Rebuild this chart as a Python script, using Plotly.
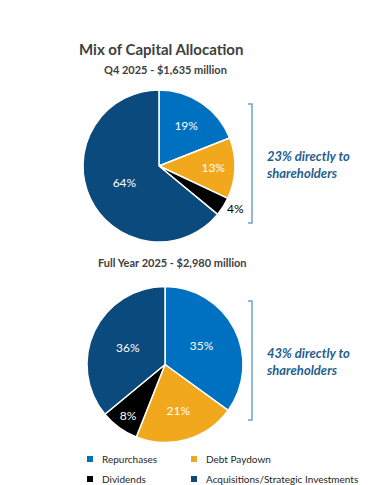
import plotly.graph_objects as go

W, H = 380, 485

categories = ["Repurchases", "Debt Paydown", "Dividends", "Acquisitions/Strategic Investments"]
q4_values = [19, 13, 4, 64]
fy_values = [35, 21, 8, 36]
colors = ["#0070C0", "#F2A81D", "#000000", "#0B4A7C"]
title_text = "Mix of Capital Allocation"
q4_title = "Q4 2025 - $1,635 million"
fy_title = "Full Year 2025 - $2,980 million"
q4_note = "23% directly to<br>shareholders"
fy_note = "43% directly to<br>shareholders"

FONT = "Lato"

def px(x):
    return x / W

def py(y):
    return 1 - y / H

fig = go.Figure()

def add_pie(values, x0, x1, y0, y1, outside_idx=None):
    pos = ["inside"] * len(values)
    tcol = ["white"] * len(values)
    if outside_idx is not None:
        pos[outside_idx] = "outside"
        tcol[outside_idx] = "black"
    fig.add_trace(go.Pie(
        labels=categories,
        values=values,
        text=[f"{v}%" for v in values],
        textinfo="text",
        textposition=pos,
        insidetextorientation="horizontal",
        textfont=dict(family=FONT, size=12, color=tcol),
        marker=dict(colors=colors, line=dict(color="white", width=1.5)),
        sort=False,
        direction="clockwise",
        rotation=0,
        showlegend=False,
        domain=dict(x=[px(x0), px(x1)], y=[py(y1), py(y0)]),
        hoverinfo="label+value",
    ))

add_pie(q4_values, 83, 235, 90, 242, outside_idx=2)
add_pie(fy_values, 87, 243, 286, 443)

annotations = []
shapes = []

annotations.append(dict(text="<b>" + title_text + "</b>", x=px(161), y=py(49), xref="paper", yref="paper",
                        showarrow=False, font=dict(family=FONT, size=15, color="#404040"), xanchor="center", yanchor="middle"))
annotations.append(dict(text="<b>" + q4_title + "</b>", x=px(165), y=py(70), xref="paper", yref="paper",
                        showarrow=False, font=dict(family=FONT, size=11, color="#404040"), xanchor="center", yanchor="middle"))
annotations.append(dict(text="<b>" + fy_title + "</b>", x=px(172), y=py(262), xref="paper", yref="paper",
                        showarrow=False, font=dict(family=FONT, size=11, color="#404040"), xanchor="center", yanchor="middle"))

for note, ytop, ybot in [(q4_note, 104, 223), (fy_note, 301, 420)]:
    shapes.append(dict(type="path", xref="paper", yref="paper",
                       path=f"M {px(248)},{py(ytop)} L {px(252)},{py(ytop)} L {px(252)},{py(ybot)} L {px(248)},{py(ybot)}",
                       line=dict(color="#6FA3D2", width=1.5)))
    annotations.append(dict(text="<b><i>" + note + "</i></b>", x=px(264), y=py((ytop + ybot) / 2 + 1), xref="paper", yref="paper",
                            showarrow=False, align="left", xanchor="left", yanchor="middle",
                            font=dict(family=FONT, size=13, color="#1F5E8E")))

# legend (manual, 2 columns)
leg_pos = [(87, 459), (191, 459), (87, 479), (191, 479)]
for (lx, ly), cat, col in zip(leg_pos, categories, colors):
    shapes.append(dict(type="rect", xref="paper", yref="paper",
                       x0=px(lx), x1=px(lx + 6), y0=py(ly + 3), y1=py(ly - 3),
                       fillcolor=col, line=dict(width=0)))
    annotations.append(dict(text=cat, x=px(lx + 13), y=py(ly), xref="paper", yref="paper",
                            showarrow=False, xanchor="left", yanchor="middle",
                            font=dict(family=FONT, size=10, color="#262626")))

fig.update_layout(
    width=W, height=H,
    margin=dict(l=0, r=0, t=0, b=0),
    paper_bgcolor="white", plot_bgcolor="white",
    annotations=annotations, shapes=shapes,
    font=dict(family=FONT),
)

fig.write_html("out.html", config={"displayModeBar": False},
               post_script="document.body.style.margin='0';document.body.style.overflow='hidden';")
